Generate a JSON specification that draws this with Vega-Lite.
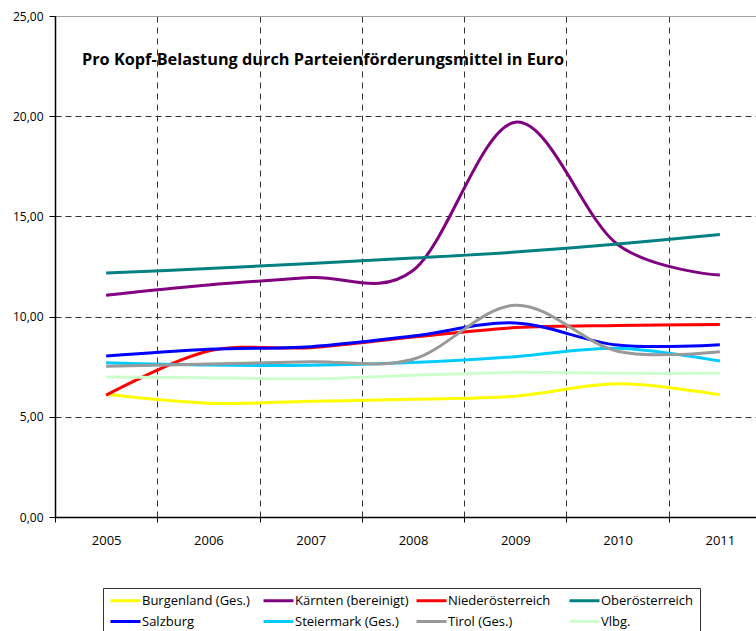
{
  "$schema": "https://vega.github.io/schema/vega-lite/v6.json",
  "autosize": {"type": "none"},
  "padding": {"left": 55, "top": 16, "right": 0, "bottom": 114},
  "width": 716,
  "height": 501,
  "background": "white",
  "title": {
    "text": "Pro Kopf-Belastung durch Parteienförderungsmittel in Euro",
    "orient": "top",
    "anchor": "start",
    "frame": "group",
    "font": "Open Sans",
    "fontSize": 16.3,
    "fontWeight": "bold",
    "color": "#000000",
    "baseline": "middle",
    "offset": 0,
    "dx": 27,
    "dy": 66
  },
  "config": {
    "view": {"stroke": "#a0a0a0", "strokeWidth": 1},
    "font": "Open Sans"
  },
  "data": {
    "values": [
      {"year": "2005", "region": "Burgenland (Ges.)", "value": 6.12},
      {"year": "2006", "region": "Burgenland (Ges.)", "value": 5.68},
      {"year": "2007", "region": "Burgenland (Ges.)", "value": 5.77},
      {"year": "2008", "region": "Burgenland (Ges.)", "value": 5.87},
      {"year": "2009", "region": "Burgenland (Ges.)", "value": 6.03},
      {"year": "2010", "region": "Burgenland (Ges.)", "value": 6.65},
      {"year": "2011", "region": "Burgenland (Ges.)", "value": 6.1},
      {"year": "2005", "region": "Kärnten (bereinigt)", "value": 11.07},
      {"year": "2006", "region": "Kärnten (bereinigt)", "value": 11.58},
      {"year": "2007", "region": "Kärnten (bereinigt)", "value": 11.95},
      {"year": "2008", "region": "Kärnten (bereinigt)", "value": 12.3},
      {"year": "2009", "region": "Kärnten (bereinigt)", "value": 19.7},
      {"year": "2010", "region": "Kärnten (bereinigt)", "value": 13.6},
      {"year": "2011", "region": "Kärnten (bereinigt)", "value": 12.07},
      {"year": "2005", "region": "Niederösterreich", "value": 6.08},
      {"year": "2006", "region": "Niederösterreich", "value": 8.28},
      {"year": "2007", "region": "Niederösterreich", "value": 8.45},
      {"year": "2008", "region": "Niederösterreich", "value": 8.98},
      {"year": "2009", "region": "Niederösterreich", "value": 9.45},
      {"year": "2010", "region": "Niederösterreich", "value": 9.56},
      {"year": "2011", "region": "Niederösterreich", "value": 9.6},
      {"year": "2005", "region": "Oberösterreich", "value": 12.17},
      {"year": "2006", "region": "Oberösterreich", "value": 12.4},
      {"year": "2007", "region": "Oberösterreich", "value": 12.65},
      {"year": "2008", "region": "Oberösterreich", "value": 12.92},
      {"year": "2009", "region": "Oberösterreich", "value": 13.22},
      {"year": "2010", "region": "Oberösterreich", "value": 13.62},
      {"year": "2011", "region": "Oberösterreich", "value": 14.1},
      {"year": "2005", "region": "Salzburg", "value": 8.03},
      {"year": "2006", "region": "Salzburg", "value": 8.37},
      {"year": "2007", "region": "Salzburg", "value": 8.5},
      {"year": "2008", "region": "Salzburg", "value": 9.03},
      {"year": "2009", "region": "Salzburg", "value": 9.68},
      {"year": "2010", "region": "Salzburg", "value": 8.58},
      {"year": "2011", "region": "Salzburg", "value": 8.6},
      {"year": "2005", "region": "Steiermark (Ges.)", "value": 7.7},
      {"year": "2006", "region": "Steiermark (Ges.)", "value": 7.58},
      {"year": "2007", "region": "Steiermark (Ges.)", "value": 7.57},
      {"year": "2008", "region": "Steiermark (Ges.)", "value": 7.71},
      {"year": "2009", "region": "Steiermark (Ges.)", "value": 8.0},
      {"year": "2010", "region": "Steiermark (Ges.)", "value": 8.42},
      {"year": "2011", "region": "Steiermark (Ges.)", "value": 7.78},
      {"year": "2005", "region": "Tirol (Ges.)", "value": 7.52},
      {"year": "2006", "region": "Tirol (Ges.)", "value": 7.63},
      {"year": "2007", "region": "Tirol (Ges.)", "value": 7.75},
      {"year": "2008", "region": "Tirol (Ges.)", "value": 7.87},
      {"year": "2009", "region": "Tirol (Ges.)", "value": 10.57},
      {"year": "2010", "region": "Tirol (Ges.)", "value": 8.27},
      {"year": "2011", "region": "Tirol (Ges.)", "value": 8.25},
      {"year": "2005", "region": "Vlbg.", "value": 6.98},
      {"year": "2006", "region": "Vlbg.", "value": 6.95},
      {"year": "2007", "region": "Vlbg.", "value": 6.9},
      {"year": "2008", "region": "Vlbg.", "value": 7.07},
      {"year": "2009", "region": "Vlbg.", "value": 7.22},
      {"year": "2010", "region": "Vlbg.", "value": 7.17},
      {"year": "2011", "region": "Vlbg.", "value": 7.17}
    ]
  },
  "mark": {"type": "line", "interpolate": "cardinal", "strokeWidth": 3, "strokeCap": "butt"},
  "encoding": {
    "x": {
      "field": "year",
      "type": "ordinal",
      "bandPosition": 0.5,
      "scale": {"type": "band", "paddingInner": 0, "paddingOuter": 0},
      "axis": {
        "title": null,
        "labelAngle": 0,
        "labelFont": "Open Sans",
        "labelFontSize": 13,
        "labelColor": "#000000",
        "labelPadding": 12,
        "tickBand": "extent",
        "tickSize": 5,
        "tickColor": "#000000",
        "domainColor": "#000000",
        "domainWidth": 1.5,
        "grid": true,
        "gridColor": "#333333",
        "gridDash": [6, 5],
        "gridWidth": 1
      }
    },
    "y": {
      "field": "value",
      "type": "quantitative",
      "scale": {"domain": [0, 25], "nice": false, "zero": true},
      "axis": {
        "title": null,
        "values": [0, 5, 10, 15, 20, 25],
        "labelExpr": "replace(format(datum.value, '.2f'), '.', ',')",
        "labelFont": "Open Sans",
        "labelFontSize": 12,
        "labelColor": "#000000",
        "labelPadding": 6,
        "tickSize": 6,
        "tickColor": "#000000",
        "domainColor": "#000000",
        "domainWidth": 1.5,
        "grid": true,
        "gridColor": {"condition": {"test": "datum.value == 25", "value": "#a0a0a0"}, "value": "#333333"},
        "gridDash": {"condition": {"test": "datum.value == 25", "value": []}, "value": [6, 4]},
        "gridWidth": 1
      }
    },
    "color": {
      "field": "region",
      "type": "nominal",
      "scale": {
        "domain": ["Burgenland (Ges.)", "Kärnten (bereinigt)", "Niederösterreich", "Oberösterreich", "Salzburg", "Steiermark (Ges.)", "Tirol (Ges.)", "Vlbg."],
        "range": ["#FFFF00", "#800080", "#FF0000", "#008080", "#0000FF", "#00CCFF", "#999999", "#CCFFCC"]
      },
      "legend": {
        "title": null,
        "orient": "none",
        "legendX": 48,
        "legendY": 572,
        "direction": "horizontal",
        "columns": 4,
        "gridAlign": "all",
        "columnPadding": 1,
        "rowPadding": 7,
        "symbolType": "M-1,0H5",
        "symbolSize": 100,
        "symbolStrokeWidth": 3,
        "labelFont": "Open Sans",
        "labelFontSize": 13,
        "labelColor": "#000000",
        "labelOffset": 20,
        "labelLimit": 200,
        "strokeColor": "#333333",
        "padding": 6,
        "fillColor": "white"
      }
    }
  }
}
